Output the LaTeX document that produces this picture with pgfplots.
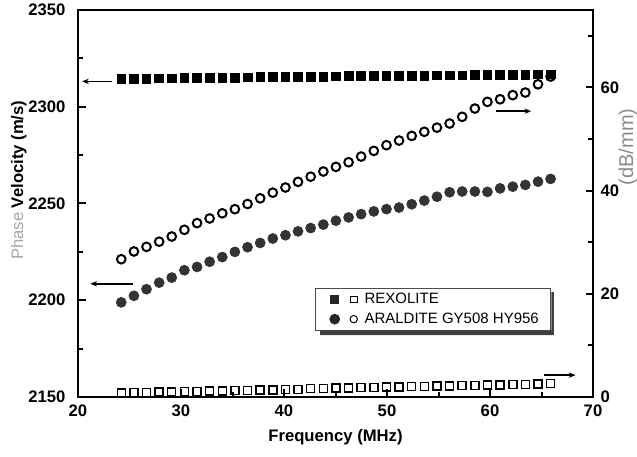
\documentclass[border=0pt]{standalone}
\usepackage{pgfplots}
\pgfplotsset{compat=1.18}
\usepackage{pgfplotstable}
\usepackage{fontspec}
\setmainfont{Liberation Sans}
\usetikzlibrary{arrows.meta}

% f = frequency (MHz), vr/ar = Rexolite velocity/attenuation, va/aa = Araldite
\pgfplotstableread{
f     vr     ar   va     aa
24.20 2314.3 0.8  2198.9 26.7
25.43 2314.4 0.9  2202.3 28.2
26.65 2314.5 0.9  2205.7 29.1
27.88 2314.6 1.0  2209.1 30.1
29.10 2314.7 1.0  2211.7 31.1
30.33 2314.8 1.1  2215.5 32.4
31.56 2314.9 1.1  2217.2 33.7
32.78 2315.0 1.2  2219.9 34.6
34.01 2315.0 1.2  2222.3 35.6
35.23 2315.1 1.3  2225.0 36.4
36.46 2315.2 1.3  2227.4 37.4
37.69 2315.3 1.4  2229.6 38.5
38.91 2315.4 1.4  2231.9 39.6
40.14 2315.4 1.5  2233.6 40.6
41.36 2315.5 1.5  2235.6 41.7
42.59 2315.6 1.6  2237.3 42.7
43.82 2315.6 1.6  2239.1 43.7
45.04 2315.7 1.7  2241.1 44.6
46.27 2315.8 1.7  2242.8 45.5
47.49 2315.8 1.8  2244.5 46.6
48.72 2315.9 1.8  2245.9 47.7
49.95 2316.0 1.9  2247.1 48.8
51.17 2316.0 1.9  2247.9 49.7
52.40 2316.1 2.0  2249.6 50.6
53.62 2316.1 2.0  2251.5 51.4
54.85 2316.2 2.1  2253.5 52.2
56.08 2316.3 2.1  2255.8 53.0
57.30 2316.3 2.2  2256.2 54.3
58.53 2316.4 2.2  2256.2 55.9
59.75 2316.4 2.3  2256.0 57.2
60.98 2316.5 2.3  2257.8 57.7
62.21 2316.5 2.4  2258.7 58.5
63.43 2316.6 2.4  2259.6 59.0
64.66 2316.7 2.5  2261.3 60.6
65.88 2316.8 2.6  2262.7 62.1
}\data

\begin{document}
\begin{tikzpicture}
\pgfplotsset{
  every axis/.append style={
    scale only axis, width=309pt, height=232.2pt,
    xmin=20, xmax=70, clip=false,
    axis line style={-, line width=1.4pt},
    tick align=inside,
    major tick length=4.5pt, minor tick length=3pt,
    every tick/.style={black, line width=1.2pt},
    tick label style={font=\bfseries},
    /pgf/number format/assume math mode=true,
    /pgf/number format/1000 sep={},
  }
}
\begin{axis}[name=a,
  ymin=2150, ymax=2350,
  xtick={20,30,...,70}, minor xtick={25,35,...,65},
  ytick={2150,2200,...,2350}, minor ytick={2175,2225,...,2325},
  xtick pos=bottom, ytick pos=left,
  yticklabel style={xshift=-4pt},
  xticklabel style={yshift=-1pt},
  xlabel={\bfseries Frequency (MHz)},
  xlabel style={at={(axis description cs:0.5,-0.103)}, anchor=center},
  ylabel={{\color{black!35}\mdseries Phase} \bfseries Velocity (m/s)},
  ylabel style={at={(axis description cs:-0.115,0.56)}, anchor=center},
  legend style={at={(axis cs:43,2206.4)}, anchor=north west,
    font=\fontsize{9}{10}\selectfont, draw=black!70, line width=0.6pt,
    fill=white, inner xsep=5pt, inner ysep=0.8pt, row sep=0pt},
  legend cell align=left,
]
\addplot[only marks, mark=square*, mark size=2.6pt, mark options={fill=black, draw=black},
  legend image code/.code={
    \path[draw=none] (-1pt,0) -- (21.5pt,0);
    \fill[black!85] (3.2pt,-2.4pt) rectangle (8pt,2.4pt);
    \draw[line width=0.6pt, fill=none] (15pt,-2pt) rectangle (19pt,2pt);}]
  table[x=f, y=vr]{\data};
\addlegendentry{REXOLITE}
\addplot[only marks, mark=*, mark size=3pt, mark options={fill=black!80, draw=black!80},
  legend image code/.code={
    \path[draw=none] (-1pt,0) -- (21.5pt,0);
    \fill[black!85] (5.6pt,0) circle (2.9pt);
    \draw[line width=0.6pt, fill=none] (17pt,0) circle (2.2pt);}]
  table[x=f, y=va]{\data};
\addlegendentry{ARALDITE GY508 HY956\hspace{3pt}}

\draw[line width=0.9pt, -{Stealth[length=4pt,width=3.2pt]}] (axis cs:23.3,2313.1) -- (axis cs:20.4,2313.1);
\draw[line width=0.9pt, -{Stealth[length=4pt,width=3.2pt]}] (axis cs:25.3,2208.5) -- (axis cs:21.2,2208.5);
\draw[line width=0.9pt, -{Stealth[length=4pt,width=3.2pt]}] (axis cs:60.6,2297.7) -- (axis cs:64.0,2297.7);
\draw[line width=0.9pt, -{Stealth[length=4pt,width=3.2pt]}] (axis cs:65.2,2161.3) -- (axis cs:68.3,2161.3);
\end{axis}

\begin{axis}[
  ymin=0, ymax=75,
  axis x line=none, axis y line*=right,
  ytick={0,20,40,60}, minor ytick={10,30,50,70},
  yticklabel style={xshift=1pt},
]
\addplot[only marks, mark=square, mark size=2.4pt, mark options={line width=0.9pt}]
  table[x=f, y=ar]{\data};
\addplot[only marks, mark=o, mark size=2.6pt, mark options={line width=1.2pt}]
  table[x=f, y=aa]{\data};
% drop shadow strips along the bottom and right of the legend box
\fill[black!75] (axis cs:43.5,12.0) rectangle (axis cs:66.2,12.9)
                (axis cs:65.95,12.0) rectangle (axis cs:66.2,20.3);
\node[rotate=90, text=black!45, font=\large] at (rel axis cs:1.068,0.646) {(dB/mm)};
\end{axis}

\pgfresetboundingbox
\path[use as bounding box] ([shift={(-46.8pt,-36pt)}]a.south west) rectangle ([shift={(26.4pt,6pt)}]a.north east);
\end{tikzpicture}
\end{document}
